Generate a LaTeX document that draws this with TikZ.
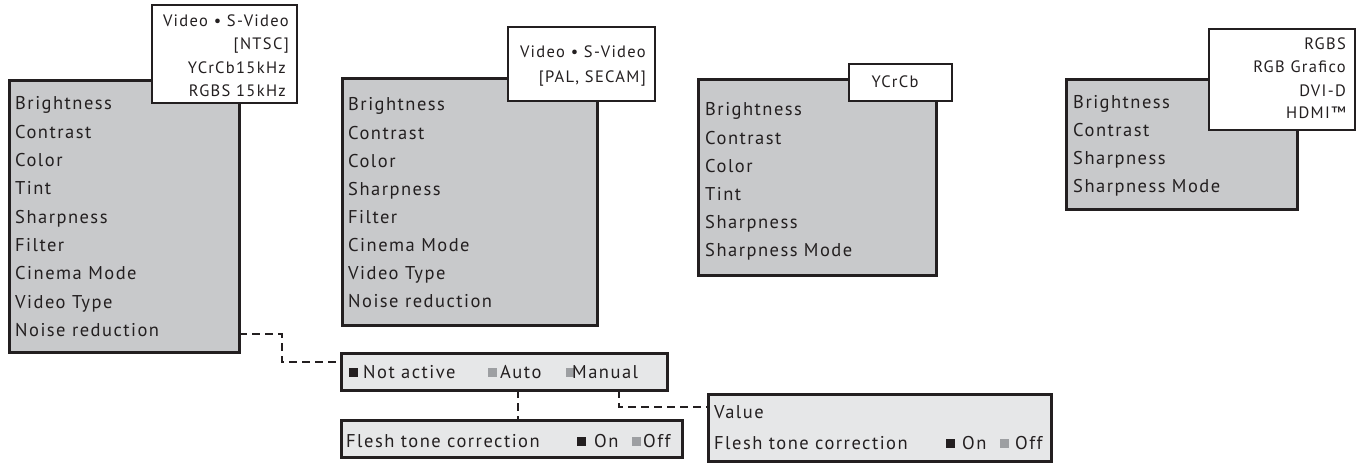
\documentclass[tikz,border=0pt]{standalone}
\usepackage{fontspec}
\setmainfont{PT Sans}[LetterSpace=8]
\definecolor{edge}{HTML}{231F20}
\definecolor{menugray}{HTML}{C8C9CB}
\definecolor{optgray}{HTML}{E6E7E8}
\definecolor{sqgray}{HTML}{9D9FA2}
\begin{document}
\begin{tikzpicture}[x=1pt,y=-1pt,
  menubox/.style={draw=edge,line width=3pt,fill=menugray,anchor=north west,inner sep=0pt,outer sep=0pt},
  labelbox/.style={draw=edge,line width=2pt,fill=white,anchor=north west,inner sep=0pt,outer sep=0pt},
  optbox/.style={draw=edge,line width=3pt,fill=optgray,anchor=north west,inner sep=0pt,outer sep=0pt},
  mtext/.style={anchor=base west,inner sep=0pt,text=edge,font=\fontsize{18.5}{20}\selectfont},
  ltext/.style={anchor=base east,inner sep=0pt,text=edge,font=\fontsize{16.5}{19}\selectfont},
  sqblack/.style={fill=edge,inner sep=0pt,minimum size=9pt},
  sqgrey/.style={fill=sqgray,inner sep=0pt,minimum size=9pt},
  conn/.style={draw=edge,line width=1.3pt,dash pattern=on 8pt off 5pt}]
\useasboundingbox (0,0) rectangle (1364,465);

% menu box 1
\node[menubox,minimum width=230pt,minimum height=271pt] (b1) at (9,81) {};
\foreach \txt [count=\i from 0] in {Brightness,Contrast,Color,Tint,Sharpness,Filter,Cinema Mode,Video Type,Noise reduction}
  \node[mtext] (b1t\i) at (15,{110+28.3*\i}) {\txt};
\node[labelbox,minimum width=145pt,minimum height=98pt] (l1) at (152,5) {};
\node[ltext] (l1a) at (289,27) {Video • S-Video};
\node[ltext] (l1b) at (289,50) {[NTSC]};
\node[ltext] (l1c) at (286,74) {YCrCb15kHz};
\node[ltext] (l1d) at (286,97) {RGBS 15kHz};

% menu box 2
\node[menubox,minimum width=255pt,minimum height=246pt] (b2) at (342,79) {};
\foreach \txt [count=\i from 0] in {Brightness,Contrast,Color,Sharpness,Filter,Cinema Mode,Video Type,Noise reduction}
  \node[mtext] (b2t\i) at (348,{111+28.1*\i}) {\txt};
\node[labelbox,minimum width=147pt,minimum height=74pt] (l2) at (508,27) {};
\node[ltext] (l2a) at (646,58) {Video • S-Video};
\node[ltext] (l2b) at (646,83) {[PAL, SECAM]};

% menu box 3
\node[menubox,minimum width=238pt,minimum height=195pt] (b3) at (698,80) {};
\foreach \txt [count=\i from 0] in {Brightness,Contrast,Color,Tint,Sharpness,Sharpness Mode}
  \node[mtext] (b3t\i) at (705,{116+28.1*\i}) {\txt};
\node[labelbox,minimum width=103pt,minimum height=37pt] (l3) at (849,64) {};
\node[ltext,anchor=base] (l3a) at (895,88) {YCrCb};

% menu box 4
\node[menubox,minimum width=231pt,minimum height=129pt] (b4) at (1066,80) {};
\foreach \txt [count=\i from 0] in {Brightness,Contrast,Sharpness,Sharpness Mode}
  \node[mtext] (b4t\i) at (1073,{109+28*\i}) {\txt};
\node[labelbox,minimum width=146pt,minimum height=101pt] (l4) at (1209,29) {};
\node[ltext] (l4a) at (1346,50) {RGBS};
\node[ltext] (l4b) at (1346,73) {RGB Grafico};
\node[ltext] (l4c) at (1346,97) {DVI-D};
\node[ltext] (l4d) at (1346,119) {HDMI™};

% option boxes
\node[optbox,minimum width=326pt,minimum height=37pt] (o1) at (341,353) {};
\node[sqblack] (o1s1) at (353.5,372.5) {};
\node[mtext] (o1a) at (363,378) {Not active};
\node[sqgrey] (o1s2) at (492,372.5) {};
\node[mtext] (o1b) at (500,378) {Auto};
\node[sqgrey] (o1s3) at (570,372.5) {};
\node[mtext] (o1c) at (572,378) {Manual};

\node[optbox,minimum width=341pt,minimum height=37pt] (o2) at (341,420) {};
\node[mtext] (o2a) at (346,447) {Flesh tone correction};
\node[sqblack] (o2s1) at (581,441.5) {};
\node[mtext] (o2b) at (594,447) {On};
\node[sqgrey] (o2s2) at (636,441.5) {};
\node[mtext] (o2c) at (643,447) {Off};

\node[optbox,minimum width=343pt,minimum height=67pt] (o3) at (708,394) {};
\node[mtext] (o3a) at (714,418) {Value};
\node[mtext] (o3b) at (714,449) {Flesh tone correction};
\node[sqblack] (o3s1) at (950,443.5) {};
\node[mtext] (o3c) at (962,449) {On};
\node[sqgrey] (o3s2) at (1004.5,443.5) {};
\node[mtext] (o3d) at (1015,449) {Off};

% connectors
\coordinate (k1) at (282,334);
\coordinate (k2) at (282,362);
\draw[conn] (b1.east |- k1) -- (k1) -- (k2) -- (o1.west |- k2);
\coordinate (k3) at (518,400);
\draw[conn] (o1.south -| k3) -- (o2.north -| k3);
\coordinate (k4) at (619,407);
\draw[conn] (o1.south -| k4) -- (k4) -- (o3.west |- k4);
\end{tikzpicture}
\end{document}
